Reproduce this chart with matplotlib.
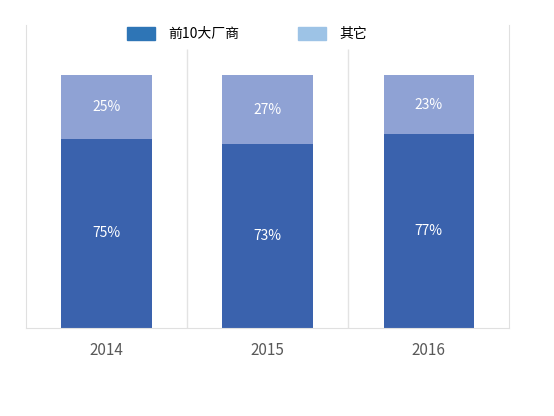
import numpy as np
import matplotlib.pyplot as plt
from matplotlib.patches import Patch

plt.rcParams['font.family'] = ['Noto Sans CJK SC', 'DejaVu Sans']

years = ["2014", "2015", "2016"]
top10 = [75, 73, 77]
others = [25, 27, 23]
series_names = ["前10大厂商", "其它"]

fig = plt.figure(figsize=(5.54, 4.16), dpi=100)
ax = fig.add_axes([0.047, 0.2115, 0.872, 0.7285])

x = np.arange(len(years))
w = 0.56
b1 = ax.bar(x, top10, w, color="#3A62AD")
b2 = ax.bar(x, others, w, bottom=top10, color="#8FA2D4")

for i in range(len(years)):
    ax.text(x[i], top10[i] / 2, f"{top10[i]}%", ha="center", va="center",
            color="white", fontsize=10)
    ax.text(x[i], top10[i] + others[i] / 2, f"{others[i]}%", ha="center",
            va="center", color="white", fontsize=10)

ax.set_xlim(-0.5, 2.5)
ax.set_ylim(0, 120)
ax.vlines([0.5, 1.5], 0, 110.3, color="#e3e3e3", lw=1)
for s in ["left", "right", "bottom"]:
    ax.spines[s].set_color("#e0e0e0")
ax.spines["top"].set_visible(False)
ax.set_yticks([])
ax.set_xticks(x)
ax.set_xticklabels(years, color="#595959", fontsize=11)
ax.tick_params(axis="x", length=0, pad=10)

handles = [Patch(color="#2E75B6"), Patch(color="#9DC3E6")]
fig.legend(handles, series_names, loc="center", bbox_to_anchor=(247 / 554, 1 - 34 / 416),
           ncol=2, frameon=False, fontsize=10, handlelength=2.0, handleheight=1.15,
           handletextpad=1.0, columnspacing=4.2)

fig.savefig("out.png", dpi=100)
